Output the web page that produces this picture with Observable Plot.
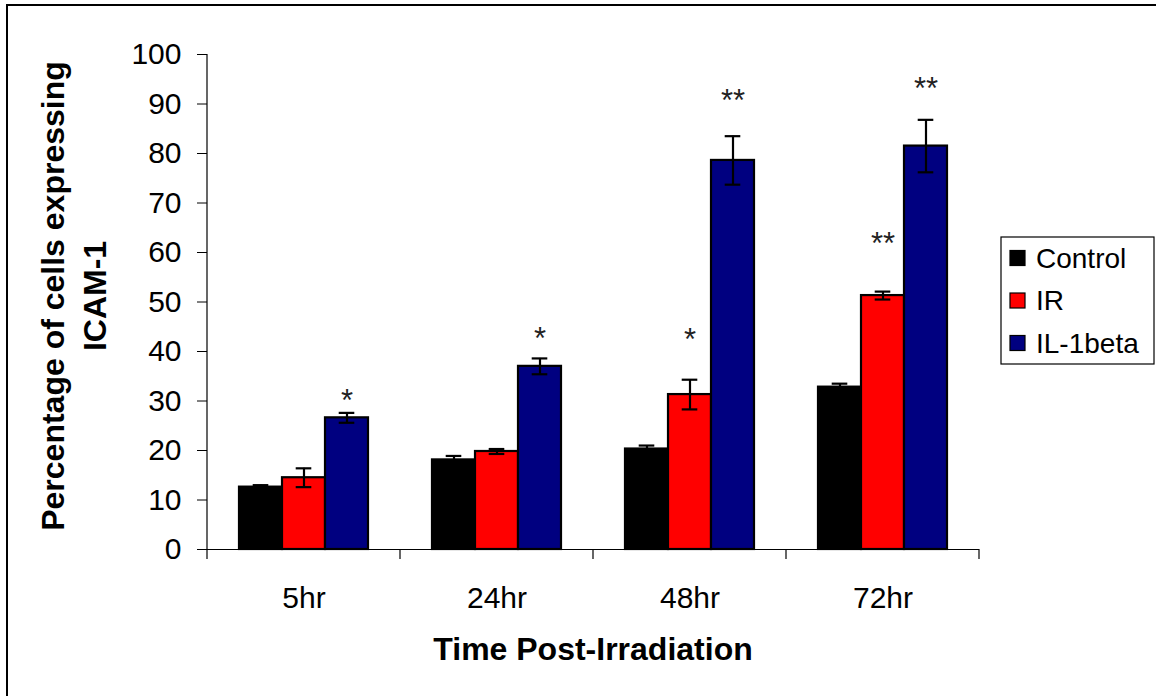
<!DOCTYPE html>
<html>
<head>
<meta charset="utf-8">
<script src="https://cdn.jsdelivr.net/npm/d3@7"></script>
<script src="https://cdn.jsdelivr.net/npm/@observablehq/plot@0.6"></script>
<style>
  html, body { margin: 0; padding: 0; background: #fff; }
  #chart { width: 1156px; height: 696px; overflow: hidden; }
</style>
</head>
<body>
<div id="chart"></div>
<script>
// Time points and treatment groups
const times = ["5hr", "24hr", "48hr", "72hr"];
const groups = ["Control", "IR", "IL-1beta"];
const groupColors = ["#000000", "#ff0000", "#000080"];

// Mean percentage of ICAM-1 positive cells and error (±) per time point
const controlMean = [12.6, 18.1, 20.3, 32.8];
const controlErr  = [0.4, 0.8, 0.7, 0.7];
const irMean      = [14.5, 19.8, 31.3, 51.3];
const irErr       = [1.9, 0.5, 3.0, 0.8];
const il1Mean     = [26.6, 37.0, 78.6, 81.5];
const il1Err      = [1.0, 1.6, 4.9, 5.3];

// Significance markers and the height (in %) at which each is written
const sigText  = [["", "", "*"], ["", "", "*"], ["", "*", "**"], ["", "**", "**"]];
const sigLevel = [[0, 0, 31.6], [0, 0, 44.2], [0, 43.9, 92.3], [0, 63.4, 94.6]];

const yTicks = [0, 10, 20, 30, 40, 50, 60, 70, 80, 90, 100];

// Long table built from the arrays above
const means = [controlMean, irMean, il1Mean];
const errs = [controlErr, irErr, il1Err];
const rows = [];
times.forEach((t, i) => groups.forEach((g, j) => {
  rows.push({time: t, group: g, value: means[j][i], err: errs[j][i], sig: sigText[i][j], level: sigLevel[i][j]});
}));
const sigRows = rows.filter(d => d.sig);

const font = "'Liberation Sans', Arial, Helvetica, sans-serif";

const chart = Plot.plot({
  width: 1156,
  height: 696,
  marginLeft: 207,
  marginRight: 177,
  marginTop: 54,
  marginBottom: 147,
  style: {fontFamily: font, color: "#000", background: "transparent", overflow: "visible"},
  fx: {domain: times, padding: 0, label: null},
  x: {domain: groups, paddingInner: 0, paddingOuter: 0.72, axis: null},
  y: {domain: [0, 100], label: null},
  color: {domain: groups, range: groupColors},
  marks: [
    Plot.axisY({ticks: yTicks, tickSize: 10, tickPadding: 16, fontSize: 30, label: null, stroke: "#000"}),
    Plot.axisFx({anchor: "bottom", tickSize: 0, tickPadding: 37, fontSize: 30, label: null}),
    Plot.barY(rows, {fx: "time", x: "group", y: "value", fill: "group", stroke: "#000", strokeWidth: 2.2}),
    Plot.ruleX(rows, {fx: "time", x: "group", y1: d => d.value - d.err, y2: d => d.value + d.err, stroke: "#000", strokeWidth: 2.2}),
    Plot.tickY(rows, {fx: "time", x: "group", y: d => d.value + d.err, insetLeft: 13.7, insetRight: 13.7, stroke: "#000", strokeWidth: 2.2}),
    Plot.tickY(rows, {fx: "time", x: "group", y: d => d.value - d.err, insetLeft: 13.7, insetRight: 13.7, stroke: "#000", strokeWidth: 2.2}),
    Plot.text(sigRows, {fx: "time", x: "group", y: "level", text: "sig", fontSize: 31, fill: "#222", lineAnchor: "middle", dy: 8}),
    Plot.ruleY([0], {stroke: "#000", strokeWidth: 1.2})
  ]
});

const svg = d3.select(chart);
const y = chart.scale("y");
const fx = chart.scale("fx");
const color = chart.scale("color");
const y0 = y.apply(0), y100 = y.apply(100);
const xLeft = fx.apply(times[0]);
const xRight = fx.apply(times[times.length - 1]) + fx.bandwidth;

// Outer border (top and left edges visible)
svg.append("path")
  .attr("d", `M7,${696 + 10}V5H${1156 + 10}`)
  .attr("fill", "none").attr("stroke", "#000").attr("stroke-width", 2);

// Vertical value axis line
svg.append("line")
  .attr("x1", xLeft).attr("x2", xLeft).attr("y1", y100).attr("y2", y0)
  .attr("stroke", "#000").attr("stroke-width", 1.2);

// Category separator ticks below the baseline
const bounds = times.map(t => fx.apply(t)).concat([xRight]);
svg.append("g").selectAll("line").data(bounds).join("line")
  .attr("x1", d => d).attr("x2", d => d).attr("y1", y0).attr("y2", y0 + 10)
  .attr("stroke", "#000").attr("stroke-width", 1.2);

// Axis titles
svg.append("text")
  .attr("transform", `translate(64,296) rotate(-90)`)
  .attr("text-anchor", "middle")
  .attr("font-family", font).attr("font-weight", "bold").attr("font-size", 32)
  .attr("fill", "#000")
  .text("Percentage of cells expressing");
svg.append("text")
  .attr("transform", `translate(106,296) rotate(-90)`)
  .attr("text-anchor", "middle")
  .attr("font-family", font).attr("font-weight", "bold").attr("font-size", 32)
  .attr("fill", "#000")
  .text("ICAM-1");
svg.append("text")
  .attr("x", (xLeft + xRight) / 2).attr("y", 660)
  .attr("text-anchor", "middle")
  .attr("font-family", font).attr("font-weight", "bold").attr("font-size", 32)
  .attr("fill", "#000")
  .text("Time Post-Irradiation");

// Legend
const legend = svg.append("g").attr("text-anchor", "start");
legend.append("rect")
  .attr("x", 1001).attr("y", 237).attr("width", 153).attr("height", 127)
  .attr("fill", "#fff").attr("stroke", "#000").attr("stroke-width", 1.2);
groups.forEach((g, i) => {
  const cy = 258 + i * 42.5;
  legend.append("rect")
    .attr("x", 1010).attr("y", cy - 7.5).attr("width", 15).attr("height", 15)
    .attr("fill", color.apply(g)).attr("stroke", "#000").attr("stroke-width", 1.2);
  legend.append("text")
    .attr("x", 1036).attr("y", cy).attr("dy", "0.35em")
    .attr("text-anchor", "start")
    .attr("font-family", font).attr("font-size", 28).attr("fill", "#000")
    .text(g);
});

document.getElementById("chart").appendChild(chart);
</script>
</body>
</html>
